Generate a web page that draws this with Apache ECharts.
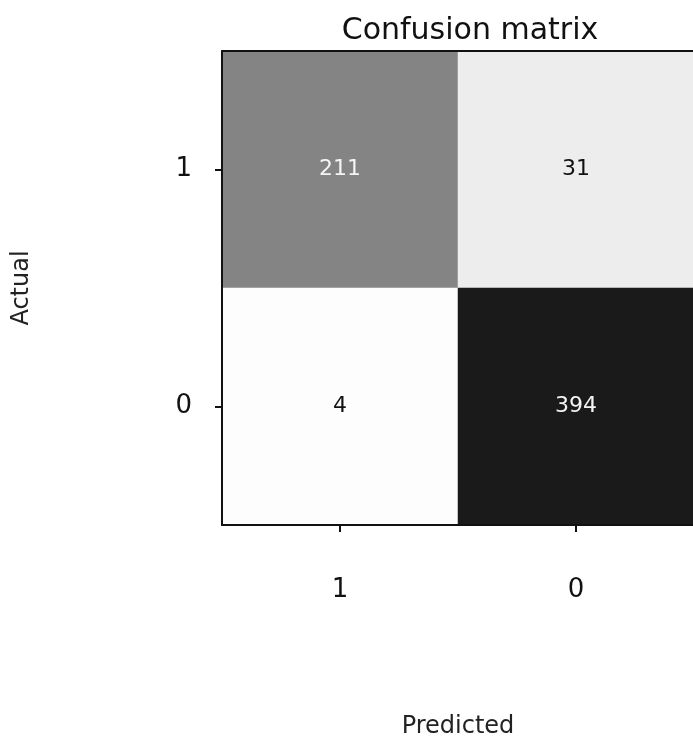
<!DOCTYPE html>
<html>
<head>
<meta charset="utf-8">
<script src="https://cdn.jsdelivr.net/npm/echarts@6/dist/echarts.min.js"></script>
<style>
  html, body { margin: 0; padding: 0; background: #fff; }
  #chart { width: 693px; height: 740px; }
</style>
</head>
<body>
<div id="chart"></div>
<script>
// predicted classes (x) and actual classes (y, bottom to top)
const predicted = ['1', '0'];
const actual = ['0', '1'];
// counts per row of actual, in predicted order
const rowActual1 = [211, 31];
const rowActual0 = [4, 394];

const cells = [];
rowActual1.forEach((v, i) => cells.push([i, 1, v]));
rowActual0.forEach((v, i) => cells.push([i, 0, v]));

const font = 'DejaVu Sans';
const chart = echarts.init(document.getElementById('chart'));

// plain frame line for the top and right edges
const frameAxis = (pos) => ({
  type: 'category', position: pos, z: 10,
  axisLine: { show: true, lineStyle: { color: '#111', width: 2 } },
  axisTick: { show: false }, axisLabel: { show: false }, splitLine: { show: false }
});

chart.setOption({
  animation: false,
  title: {
    text: 'Confusion matrix',
    left: 465, top: 11, textAlign: 'center',
    textStyle: { fontFamily: font, fontSize: 30, fontWeight: 'normal', color: '#111' }
  },
  grid: { left: 222, top: 51, width: 472, height: 474, outerBoundsMode: 'none', containLabel: false },
  xAxis: [{
    type: 'category',
    data: predicted,
    z: 10,
    name: 'Predicted',
    nameLocation: 'middle',
    nameGap: 190,
    nameTextStyle: { fontFamily: font, fontSize: 24, color: '#222' },
    axisLine: { show: true, lineStyle: { color: '#111', width: 2 } },
    axisTick: { show: true, alignWithLabel: true, length: 7, lineStyle: { color: '#111', width: 2 } },
    axisLabel: { fontFamily: font, fontSize: 26, color: '#111', margin: 52 },
    splitArea: { show: false }
  }, Object.assign(frameAxis('top'), { data: predicted })],
  yAxis: [{
    type: 'category',
    data: actual,
    z: 10,
    name: 'Actual',
    nameLocation: 'middle',
    nameGap: 188,
    nameRotate: 90,
    nameTextStyle: { fontFamily: font, fontSize: 24, color: '#222' },
    axisLine: { show: true, lineStyle: { color: '#111', width: 2 } },
    axisTick: { show: true, alignWithLabel: true, length: 7, lineStyle: { color: '#111', width: 2 } },
    axisLabel: { fontFamily: font, fontSize: 26, color: '#111', margin: 30 },
    splitArea: { show: false }
  }, Object.assign(frameAxis('right'), { data: actual })],
  visualMap: {
    show: false,
    min: 0,
    max: 394,
    inRange: { color: ['#ffffff', '#1a1a1a'] }
  },
  series: [{
    type: 'heatmap',
    data: cells.map(c => ({
      value: c,
      label: { color: c[2] > 394 / 2 ? '#f4f4f4' : '#111' }
    })),
    label: {
      show: true,
      fontFamily: font,
      fontSize: 22,
      formatter: p => p.value[2]
    },
    itemStyle: { borderWidth: 0 }
  }]
});
</script>
</body>
</html>
